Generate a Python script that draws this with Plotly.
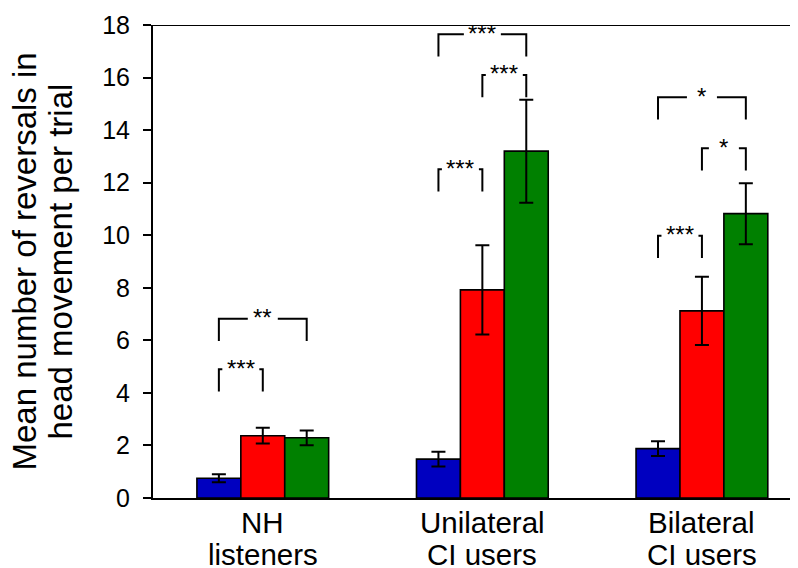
import plotly.graph_objects as go

# ---- data ----
groups = ["NH<br>listeners", "Unilateral<br>CI users", "Bilateral<br>CI users"]
cond_names = ["Condition A", "Condition B", "Condition C"]
blue_vals = [0.75, 1.48, 1.88]
blue_err = [0.15, 0.28, 0.28]
red_vals = [2.37, 7.92, 7.12]
red_err = [0.30, 1.70, 1.30]
green_vals = [2.29, 13.20, 10.82]
green_err = [0.28, 1.96, 1.16]

y_ticks = [0, 2, 4, 6, 8, 10, 12, 14, 16, 18]
y_title_lines = ["Mean number of reversals in", "head movement per trial"]

# significance brackets: group index, bar from, bar to, top level, label
br_group = [0, 0, 1, 1, 1, 2, 2, 2]
br_from = [0, 0, 0, 1, 0, 0, 1, 0]
br_to = [1, 2, 1, 2, 2, 1, 2, 2]
br_top = [4.90, 6.82, 12.51, 16.10, 17.65, 9.98, 13.31, 15.25]
br_label = ["***", "**", "***", "***", "***", "***", "*", "*"]

# ---- styling ----
colors = ["#0000C0", "#FF0000", "#008000"]
FONT = "Arial, Liberation Sans, sans-serif"
# the page body adds an 8px margin, so the figure is 8px smaller
W, H = 790, 560
L, R, T, B = 145, 1, 17, 70
x_range = [-0.5, 2.433]
bar_w = 0.2
br_height = 0.85
px_per_x = (W - L - R) / (x_range[1] - x_range[0])

fig = go.Figure()
xs = list(range(len(groups)))
for vals, errs, col, nm in zip([blue_vals, red_vals, green_vals],
                               [blue_err, red_err, green_err], colors, cond_names):
    fig.add_trace(go.Bar(
        x=xs, y=vals, name=nm,
        marker=dict(color=col, line=dict(color="black", width=1.6)),
        error_y=dict(type="data", array=errs, visible=True,
                     color="black", thickness=2, width=7),
    ))

shapes = []
annotations = []
gap_px = {"***": 37, "**": 30, "*": 30}
for g, a, b, top, lab in zip(br_group, br_from, br_to, br_top, br_label):
    x1 = g + (a - 1) * bar_w
    x2 = g + (b - 1) * bar_w
    xc = (x1 + x2) / 2
    half = gap_px[lab] / 2 / px_per_x
    bot = top - br_height
    path = (f"M {x1},{bot} L {x1},{top} L {xc - half},{top} "
            f"M {xc + half},{top} L {x2},{top} L {x2},{bot}")
    shapes.append(dict(type="path", path=path, xref="x", yref="y",
                       line=dict(color="black", width=2)))
    annotations.append(dict(x=xc, y=top, xref="x", yref="y", text=lab,
                            showarrow=False, xanchor="center", yanchor="middle",
                            yshift=1, font=dict(family=FONT, size=24, color="black")))

# category labels (two lines each)
for i, g in enumerate(groups):
    lines = g.split("<br>")
    for j, ln in enumerate(lines):
        annotations.append(dict(x=i, y=0, xref="x", yref="paper", text=ln,
                                showarrow=False, xanchor="center", yanchor="top",
                                yshift=-6 - 32 * j,
                                font=dict(family=FONT, size=29.5, color="black")))

# y title (two lines)
for j, ln in enumerate(y_title_lines):
    annotations.append(dict(x=0, y=0.5, xref="paper", yref="paper", text=ln,
                            showarrow=False, textangle=-90, xanchor="center",
                            yanchor="middle", xshift=(16 + 36 * j) - L,
                            font=dict(family=FONT, size=33, color="black")))

fig.update_layout(
    width=W, height=H,
    margin=dict(l=L, r=R, t=T, b=B, pad=0, autoexpand=False),
    paper_bgcolor="white", plot_bgcolor="white",
    barmode="group", bargap=0.4, bargroupgap=0,
    showlegend=False,
    font=dict(family=FONT, color="black"),
    shapes=shapes, annotations=annotations,
    xaxis=dict(range=x_range, tickvals=xs, showticklabels=False, ticks="",
               showgrid=False, zeroline=False, showline=True,
               linecolor="black", linewidth=2, mirror=False),
    yaxis=dict(range=[0, 18], tickvals=y_ticks, ticks="outside", ticklen=8,
               tickwidth=2, tickcolor="black", showgrid=False, zeroline=False,
               showline=True, linecolor="black", linewidth=2,
               ticklabelstandoff=8,
               tickfont=dict(family=FONT, size=25, color="black")),
)
# top frame line
fig.add_shape(type="line", xref="paper", yref="y", x0=0, x1=1, y0=18, y1=18,
              line=dict(color="black", width=2))

fig.write_html("out.html")
